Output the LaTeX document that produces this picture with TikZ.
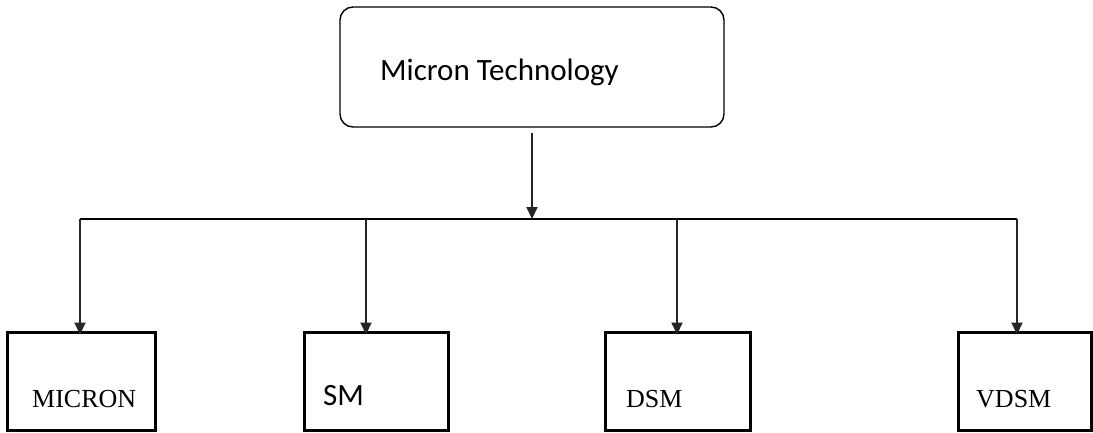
\documentclass[tikz,border=0pt]{standalone}
\usepackage{fontspec}
\setmainfont{Liberation Serif}
\newfontfamily\calfont{Carlito}
\usetikzlibrary{arrows.meta}
\begin{document}
\begin{tikzpicture}[x=1pt,y=-1pt,
  topbox/.style={draw, rounded corners=13pt, line width=1.4pt, minimum width=384pt, minimum height=120pt, inner sep=0pt},
  leaf/.style={draw, line width=3pt, inner sep=0pt, minimum height=98pt},
  arr/.style={line width=2pt, draw=black!85, -{Triangle[length=12pt,width=11pt]}},
  hline/.style={line width=1.4pt},
  sanstxt/.style={inner sep=0pt, anchor=base west, font=\calfont\fontsize{31}{36}\selectfont},
  seriftxt/.style={inner sep=0pt, anchor=base west, font=\fontsize{26}{31}\selectfont}]
\useasboundingbox (0,0) rectangle (1093,432);
% boxes
\node[topbox] (top) at (532,67) {};
\node[leaf, minimum width=148pt] (m) at (81,381) {};
\node[leaf, minimum width=144pt] (s) at (376,381) {};
\node[leaf, minimum width=145pt] (d) at (677.5,381) {};
\node[leaf, minimum width=133pt] (v) at (1024.5,381) {};
% texts
\node[sanstxt] (toptxt) at (380,80) {Micron Technology};
\node[seriftxt] (mtxt) at (32,407) {MICRON};
\node[sanstxt] (stxt) at (323,405) {SM};
\node[seriftxt] (dtxt) at (626,407) {DSM};
\node[seriftxt] (vtxt) at (976,407) {VDSM};
% connectors
\coordinate (jt) at (532,219);
\coordinate (j1) at (80,219);
\coordinate (j2) at (366,219);
\coordinate (j3) at (677,219);
\coordinate (j4) at (1017,219);
\draw[hline] (j1) -- (j4);
\draw[arr, shorten <=5pt] (top.south) -- (jt);
\draw[arr, shorten >=-4pt] (j1) -- (j1 |- m.north);
\draw[arr, shorten >=-4pt] (j2) -- (j2 |- s.north);
\draw[arr, shorten >=-4pt] (j3) -- (j3 |- d.north);
\draw[arr, shorten >=-4pt] (j4) -- (j4 |- v.north);
\end{tikzpicture}
\end{document}
